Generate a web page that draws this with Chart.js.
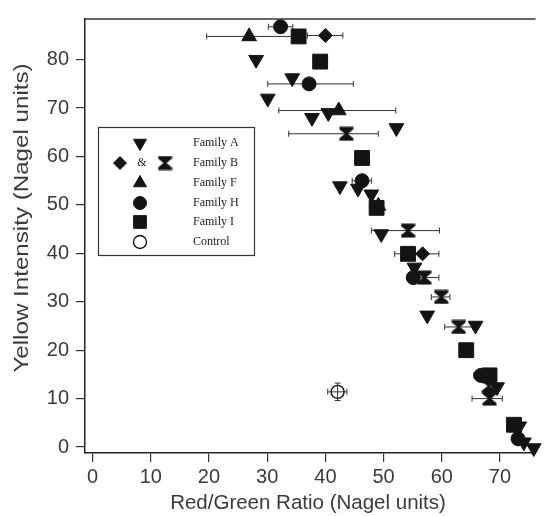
<!DOCTYPE html>
<html><head><meta charset="utf-8">
<script src="https://cdn.jsdelivr.net/npm/chart.js@4/dist/chart.umd.min.js"></script>
<style>html,body{margin:0;padding:0;background:#fff;}#wrap{width:547px;height:516px;}</style>
</head><body><div id="wrap"><canvas id="c" width="547" height="516"></canvas></div>
<script>
// ---- data ----
const legendLabels = ['Family A', 'Family B', 'Family F', 'Family H', 'Family I', 'Control'];
const xTicks = [0, 10, 20, 30, 40, 50, 60, 70];
const yTicks = [0, 10, 20, 30, 40, 50, 60, 70, 80];
const xTitle = 'Red/Green Ratio (Nagel units)';
const yTitle = 'Yellow Intensity (Nagel units)';

const famA_x = [28.1, 34.3, 30.1, 37.7, 40.5, 52.2, 42.5, 45.6, 47.9, 49.6, 55.3, 57.5, 65.8, 69.5, 73.3, 74.1, 75.8];
const famA_y = [80.0, 76.2, 72.0, 68.0, 69.0, 65.9, 53.9, 53.4, 52.2, 44.0, 37.1, 27.2, 25.1, 12.4, 4.3, 1.0, -0.2];

const famBd_x = [40.0, 56.7];
const famBd_y = [85.0, 39.9];
const famBd_err = [[36.9, 43.0], [54.0, 59.5]];

const famBh_x = [43.6, 54.2, 57.0, 59.9, 62.9, 68.1, 68.2];
const famBh_y = [64.7, 44.7, 35.0, 31.0, 24.8, 12.6, 10.0];
const famBh_err = [[33.7, 49.1], [47.9, 59.6], [54.6, 59.5], [58.2, 61.4], [60.5, 65.3], null, [65.2, 70.4]];

const famF_x = [26.9, 42.3, 49.1];
const famF_y = [84.8, 69.5, 49.8];
const famF_err = [[19.6, 34.2], [32.0, 52.1], null];

const famH_x = [32.3, 37.2, 46.3, 55.1, 66.7, 73.1];
const famH_y = [86.8, 75.0, 55.0, 35.0, 14.8, 1.7];
const famH_err = [[30.2, 34.4], [30.1, 44.8], [44.6, 47.9], null, [65.5, 67.9], null];

const famI_x = [35.4, 39.1, 46.3, 48.8, 54.2, 64.2, 68.2, 72.4];
const famI_y = [84.8, 79.6, 59.7, 49.4, 39.9, 20.0, 14.8, 4.6];
const famI_err = [null, [38.3, 40.1], [45.2, 47.3], null, [51.9, 56.5], null, null, null];

const ctrl_x = [42.1];
const ctrl_y = [11.4];
const ctrl_xerr = [[40.4, 43.7]];
const ctrl_yerr = [[9.6, 13.2]];

// ---- helpers ----
function pts(xs, ys, xerr, yerr) {
  return xs.map((x, i) => {
    const p = {x: x, y: ys[i]};
    if (xerr && xerr[i]) { p.xMin = xerr[i][0]; p.xMax = xerr[i][1]; }
    if (yerr && yerr[i]) { p.yMin = yerr[i][0]; p.yMax = yerr[i][1]; }
    return p;
  });
}
function makeHourglass(s) {
  const c = document.createElement('canvas');
  c.width = s; c.height = s;
  const g = c.getContext('2d');
  g.fillStyle = '#141414';
  g.beginPath();
  g.moveTo(0.5, 0.5); g.lineTo(s - 0.5, 0.5); g.lineTo(s - 0.5, 3);
  g.lineTo(s / 2 + 1.5, s / 2); g.lineTo(s - 0.5, s - 3); g.lineTo(s - 0.5, s - 0.5);
  g.lineTo(0.5, s - 0.5); g.lineTo(0.5, s - 3); g.lineTo(s / 2 - 1.5, s / 2); g.lineTo(0.5, 3);
  g.closePath(); g.fill();
  return c;
}
const hourglass = makeHourglass(15);
const INK = '#141414';

const styles = {
  A: {pointStyle: 'triangle', rotation: 180, radius: 8.5, borderWidth: 1},
  Bd: {pointStyle: 'rectRot', rotation: 0, radius: 7, borderWidth: 1},
  Bh: {pointStyle: hourglass, rotation: 0, radius: 7.5, borderWidth: 0},
  F: {pointStyle: 'triangle', rotation: 0, radius: 8.5, borderWidth: 1},
  H: {pointStyle: 'circle', rotation: 0, radius: 7, borderWidth: 1},
  I: {pointStyle: 'rect', rotation: 0, radius: 10.5, borderWidth: 1},
  C: {pointStyle: 'circle', rotation: 0, radius: 6.5, borderWidth: 1.4}
};

function ds(label, data, st, open) {
  return {
    label: label, data: data, clip: false,
    pointStyle: st.pointStyle, pointRotation: st.rotation,
    pointRadius: st.radius, pointHoverRadius: st.radius,
    pointBorderWidth: st.borderWidth,
    backgroundColor: open ? 'rgba(0,0,0,0)' : INK,
    borderColor: INK, showLine: false
  };
}

const errorBars = {
  id: 'errorBars',
  beforeDatasetsDraw(chart) {
    const ctx = chart.ctx, xs = chart.scales.x, ys = chart.scales.y;
    ctx.save();
    ctx.strokeStyle = '#333';
    ctx.lineWidth = 1;
    chart.data.datasets.forEach(d => {
      d.data.forEach(p => {
        const px = xs.getPixelForValue(p.x), py = ys.getPixelForValue(p.y);
        ctx.beginPath();
        if (p.xMin != null) {
          const a = xs.getPixelForValue(p.xMin), b = xs.getPixelForValue(p.xMax);
          ctx.moveTo(a, py); ctx.lineTo(b, py);
          ctx.moveTo(a, py - 3); ctx.lineTo(a, py + 3);
          ctx.moveTo(b, py - 3); ctx.lineTo(b, py + 3);
        }
        if (p.yMin != null) {
          const a = ys.getPixelForValue(p.yMin), b = ys.getPixelForValue(p.yMax);
          ctx.moveTo(px, a); ctx.lineTo(px, b);
          ctx.moveTo(px - 3, a); ctx.lineTo(px + 3, a);
          ctx.moveTo(px - 3, b); ctx.lineTo(px + 3, b);
        }
        ctx.stroke();
      });
    });
    ctx.restore();
  }
};

const frameAndLegend = {
  id: 'frameAndLegend',
  afterDraw(chart) {
    const ctx = chart.ctx, ca = chart.chartArea;
    ctx.save();
    // top frame line
    ctx.strokeStyle = '#333'; ctx.lineWidth = 1.5;
    ctx.beginPath(); ctx.moveTo(ca.left, ca.top); ctx.lineTo(ca.right, ca.top); ctx.stroke();
    // axis titles
    ctx.fillStyle = '#3a3a3a';
    ctx.textAlign = 'center'; ctx.textBaseline = 'middle';
    ctx.font = '20.5px "Liberation Sans", Arial, sans-serif';
    ctx.fillText(xTitle, 308, 503);
    ctx.save();
    ctx.translate(22, 218);
    ctx.rotate(-Math.PI / 2);
    ctx.scale(1.15, 1);
    ctx.font = '21px "Liberation Sans", Arial, sans-serif';
    ctx.fillText(yTitle, 0, 0);
    ctx.restore();
    // legend box
    const bx = 98, by = 127, bw = 156, bh = 128;
    ctx.fillStyle = '#fff'; ctx.fillRect(bx, by, bw, bh);
    ctx.strokeStyle = '#333'; ctx.lineWidth = 1.2; ctx.strokeRect(bx + 0.5, by + 0.5, bw, bh);
    const rows = [143, 163, 183, 203, 222, 242];
    const mx = 140, tx = 193;
    const draw = (st, x, y, open) => {
      ctx.save();
      ctx.fillStyle = open ? 'rgba(0,0,0,0)' : INK;
      ctx.strokeStyle = INK;
      ctx.lineWidth = st.borderWidth;
      Chart.helpers.drawPoint(ctx, {pointStyle: st.pointStyle, rotation: st.rotation, radius: st.radius, borderWidth: st.borderWidth}, x, y);
      ctx.restore();
    };
    draw({pointStyle: 'triangle', rotation: 180, radius: 7.5, borderWidth: 1}, mx, rows[0]);
    draw({pointStyle: 'rectRot', rotation: 0, radius: 6.5, borderWidth: 1}, 120, rows[1]);
    draw(styles.Bh, 165, rows[1]);
    draw({pointStyle: 'triangle', rotation: 0, radius: 7.5, borderWidth: 1}, mx, rows[2]);
    draw({pointStyle: 'circle', rotation: 0, radius: 6.5, borderWidth: 1}, mx, rows[3]);
    draw({pointStyle: 'rect', rotation: 0, radius: 9, borderWidth: 1}, mx, rows[4]);
    draw(styles.C, mx, rows[5], true);
    ctx.fillStyle = '#222';
    ctx.font = '12px "Liberation Serif", serif';
    ctx.textBaseline = 'middle';
    ctx.textAlign = 'center';
    ctx.fillText('&', 142, rows[1]);
    ctx.textAlign = 'left';
    legendLabels.forEach((t, i) => ctx.fillText(t, tx, rows[i]));
    ctx.restore();
  }
};

const tickFont = {family: '"Liberation Sans", Arial, sans-serif', size: 20};
const TXT = '#3a3a3a';

new Chart(document.getElementById('c'), {
  type: 'scatter',
  data: {
    datasets: [
      ds('Family I', pts(famI_x, famI_y, famI_err), styles.I),
      ds('Family H', pts(famH_x, famH_y, famH_err), styles.H),
      ds('Family B', pts(famBd_x, famBd_y, famBd_err), styles.Bd),
      ds('Family B', pts(famBh_x, famBh_y, famBh_err), styles.Bh),
      ds('Family F', pts(famF_x, famF_y, famF_err), styles.F),
      ds('Family A', pts(famA_x, famA_y), styles.A),
      ds('Control', pts(ctrl_x, ctrl_y, ctrl_xerr, ctrl_yerr), styles.C, true)
    ]
  },
  options: {
    responsive: false, animation: false, devicePixelRatio: 1,
    layout: {padding: {top: 16, right: 0, left: 0, bottom: 0}},
    plugins: {legend: {display: false}, tooltip: {enabled: false}},
    scales: {
      x: {
        type: 'linear', min: -1.3, max: 76.1,
        afterBuildTicks: s => { s.ticks = xTicks.map(v => ({value: v})); },
        afterFit: s => { s.height = 63; },
        border: {display: true, color: '#222', width: 1.5},
        grid: {drawOnChartArea: false, drawTicks: true, tickLength: 9, color: '#333', lineWidth: 1.2},
        ticks: {font: tickFont, color: TXT, padding: 3, maxRotation: 0},
        title: {display: false, text: xTitle}
      },
      y: {
        type: 'linear', min: -1.23, max: 88.4,
        afterBuildTicks: s => { s.ticks = yTicks.map(v => ({value: v})); },
        afterFit: s => { s.width = 85; },
        border: {display: true, color: '#222', width: 1.5},
        grid: {drawOnChartArea: false, drawTicks: true, tickLength: 9, color: '#333', lineWidth: 1.2},
        ticks: {font: tickFont, color: TXT, padding: 7},
        title: {display: false, text: yTitle}
      }
    }
  },
  plugins: [errorBars, frameAndLegend]
});
</script>
</body></html>
